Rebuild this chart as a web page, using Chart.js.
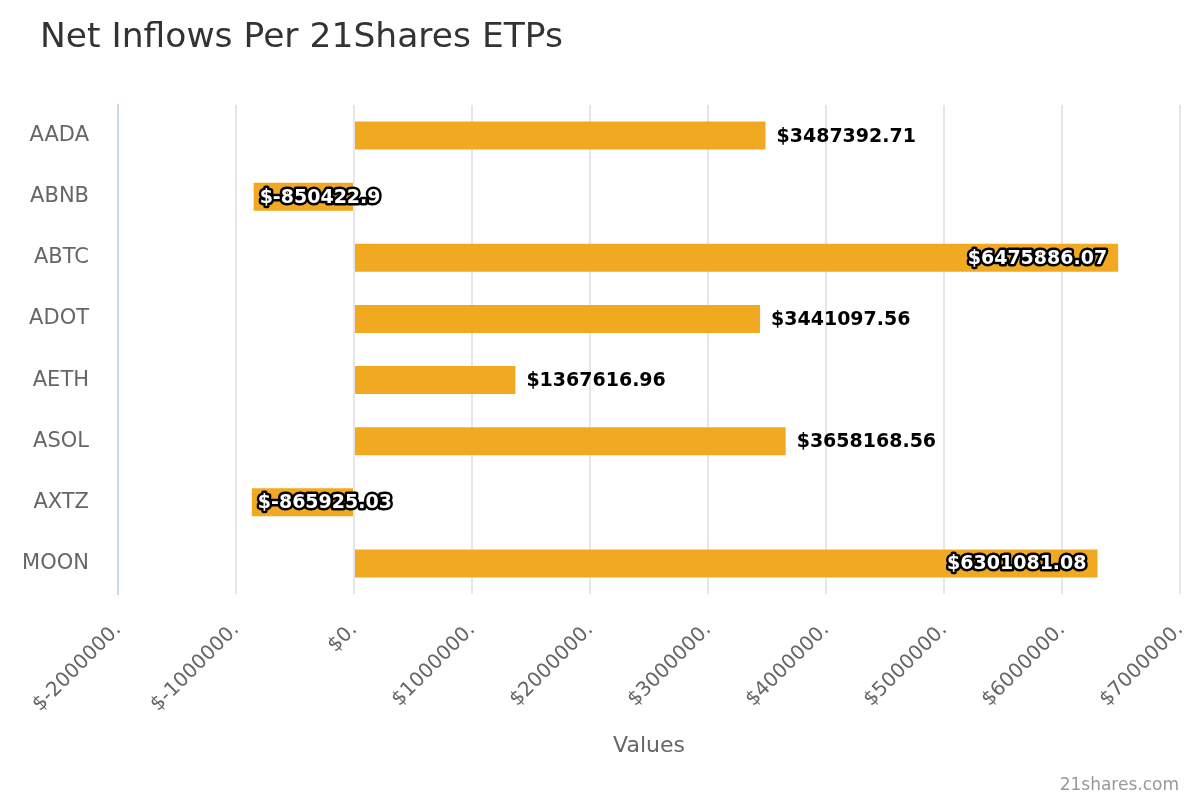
<!DOCTYPE html>
<html>
<head>
<meta charset="utf-8">
<script src="https://cdn.jsdelivr.net/npm/chart.js@4.4.1/dist/chart.umd.min.js"></script>
<style>
  html, body { margin: 0; padding: 0; background: #fff; }
  #wrap { width: 1200px; height: 800px; position: relative; }
</style>
</head>
<body>
<div id="wrap"><canvas id="inflowChart" width="1200" height="800"></canvas></div>
<script>
const tickers = ['AADA', 'ABNB', 'ABTC', 'ADOT', 'AETH', 'ASOL', 'AXTZ', 'MOON'];
const netInflows = [3487392.71, -850422.9, 6475886.07, 3441097.56, 1367616.96, 3658168.56, -865925.03, 6301081.08];
const axisMin = -2000000;
const axisMax = 7000000;
const axisStep = 1000000;

const FONT = '"DejaVu Sans", "Liberation Sans", sans-serif';
const BAR_COLOR = '#f0a920';

// title + credit text
const headerPlugin = {
  id: 'header',
  afterDraw(chart) {
    const c = chart.ctx;
    c.save();
    c.fillStyle = '#333333';
    c.font = `34.5px ${FONT}`;
    c.textAlign = 'left';
    c.textBaseline = 'alphabetic';
    c.fillText('Net Inflows Per 21Shares ETPs', 40, 47);
    c.fillStyle = '#999999';
    c.font = `17px ${FONT}`;
    c.textAlign = 'right';
    c.fillText('21shares.com', 1179, 790);
    c.restore();
  }
};

// value labels: outside when it fits, else inside with outline
const valueLabels = {
  id: 'valueLabels',
  afterDatasetsDraw(chart) {
    const c = chart.ctx;
    const area = chart.chartArea;
    const meta = chart.getDatasetMeta(0);
    c.save();
    c.font = `bold 19px ${FONT}`;
    c.textBaseline = 'middle';
    c.lineJoin = 'round';
    meta.data.forEach((bar, i) => {
      const v = netInflows[i];
      const txt = '$' + v;
      const w = c.measureText(txt).width;
      let x, align, inside;
      if (v >= 0) {
        if (bar.x + 11 + w <= area.right) {
          x = bar.x + 11; align = 'left'; inside = false;
        } else {
          x = bar.x - 11; align = 'right'; inside = true;
        }
      } else {
        x = bar.x + 6; align = 'left'; inside = true;
      }
      c.textAlign = align;
      if (inside) {
        c.strokeStyle = '#000000';
        c.lineWidth = 5;
        c.strokeText(txt, x, bar.y + 1);
        c.fillStyle = '#ffffff';
        c.fillText(txt, x, bar.y + 1);
      } else {
        c.fillStyle = '#000000';
        c.fillText(txt, x, bar.y + 1);
      }
    });
    c.restore();
  }
};

new Chart(document.getElementById('inflowChart'), {
  type: 'bar',
  data: {
    labels: tickers,
    datasets: [{
      data: netInflows,
      backgroundColor: BAR_COLOR,
      borderWidth: 0,
      categoryPercentage: 1,
      barPercentage: 0.46,
    }],
  },
  options: {
    indexAxis: 'y',
    responsive: false,
    animation: false,
    devicePixelRatio: 1,
    layout: { padding: { top: 105, left: 0, right: 20, bottom: 41 } },
    plugins: {
      legend: { display: false },
      tooltip: { enabled: false },
      title: { display: false },
    },
    scales: {
      x: {
        min: axisMin,
        max: axisMax,
        afterBuildTicks: axis => {
          const t = [];
          for (let v = axisMin; v <= axisMax; v += axisStep) t.push({ value: v });
          axis.ticks = t;
        },
        afterFit: axis => {
          axis.height = 165;
          axis.paddingRight = 0;
          axis.paddingLeft = 0;
        },
        grid: { color: '#e6e6e6', lineWidth: 2, drawTicks: false },
        border: { display: false },
        ticks: {
          autoSkip: false,
          minRotation: 45,
          maxRotation: 45,
          padding: 24,
          color: '#666666',
          font: { family: FONT, size: 20 },
          callback: v => '$' + v + '.',
        },
        title: {
          display: true,
          text: 'Values',
          color: '#666666',
          font: { family: FONT, size: 22 },
          padding: { top: 0, bottom: 0 },
        },
      },
      y: {
        afterFit: axis => { axis.width = 118; },
        grid: { display: false, drawTicks: false },
        border: { display: true, color: '#ccd6eb', width: 2 },
        ticks: {
          padding: 29,
          color: '#666666',
          font: { family: FONT, size: 21 },
        },
      },
    },
  },
  plugins: [headerPlugin, valueLabels],
});
</script>
</body>
</html>
